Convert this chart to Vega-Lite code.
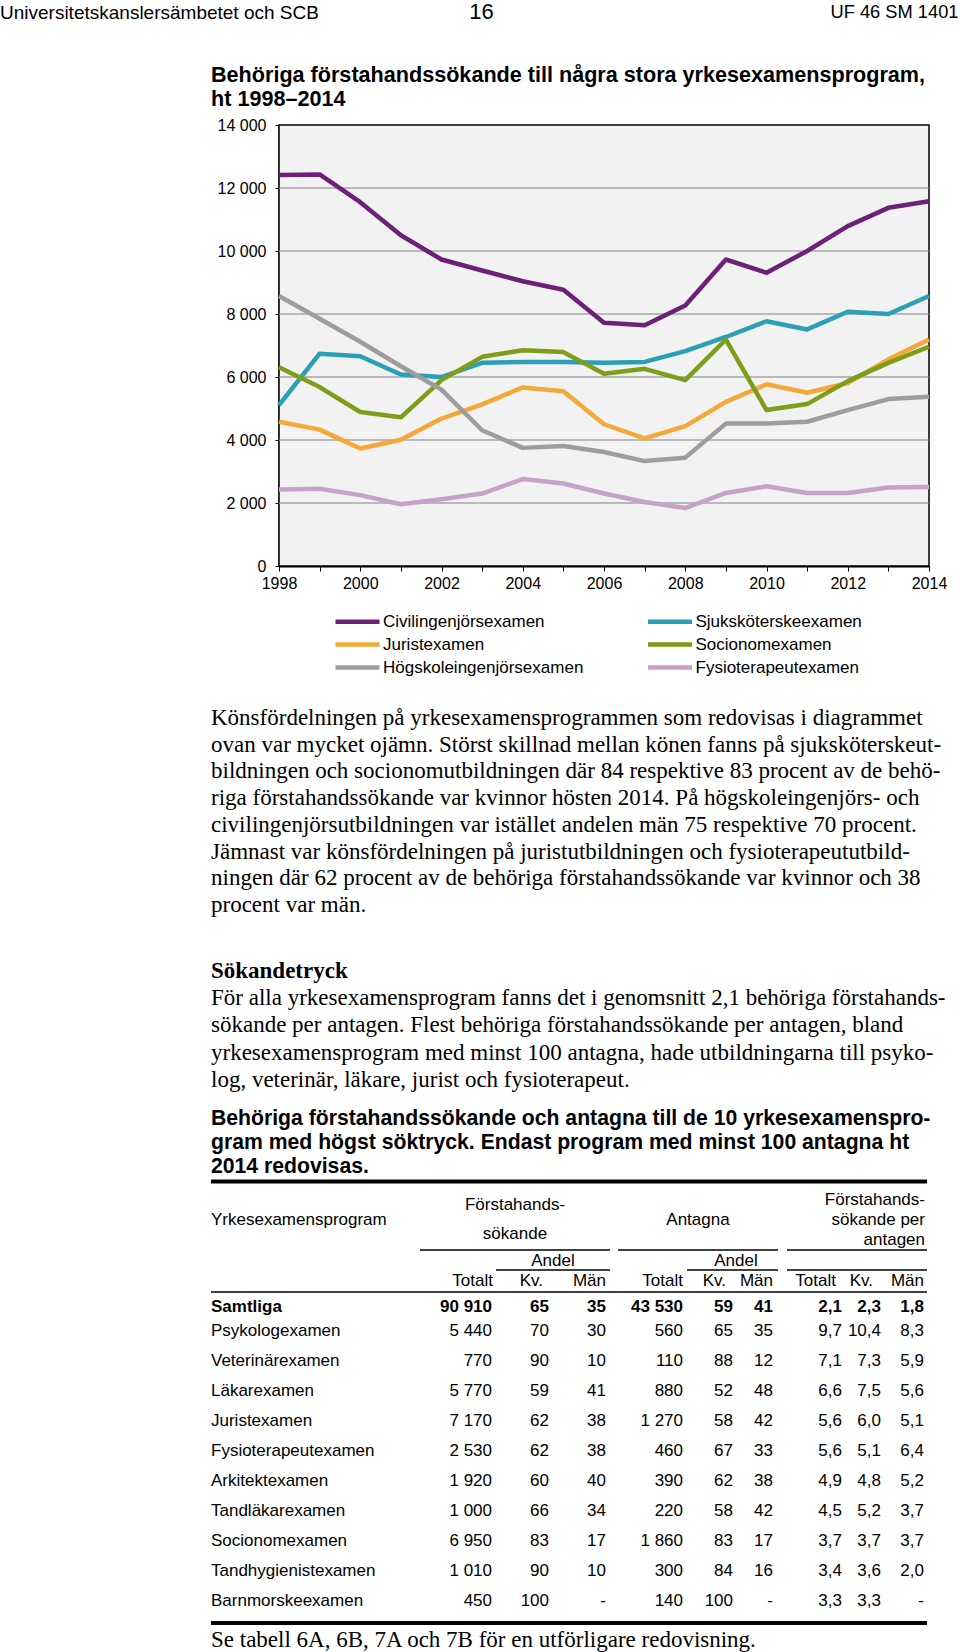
{
  "$schema": "https://vega.github.io/schema/vega-lite/v6.json",
  "width": 960,
  "height": 1652,
  "padding": 0,
  "autosize": {"type": "none"},
  "background": "white",
  "config": {"view": {"stroke": null}, "font": "Liberation Sans", "text": {"color": "#000"}},
  "resolve": {"scale": {"x": "independent", "y": "independent"}, "axis": {"x": "independent", "y": "independent"}},
  "layer": [
    {
      "layer": [
        {
          "data": {"values": [{}]},
          "mark": {"type": "rect", "fill": "#f2f2f2", "stroke": "#000", "strokeWidth": 1.5},
          "encoding": {
            "x": {"datum": 1998, "type": "quantitative", "title": null,
              "scale": {"domain": [1998, 2014], "range": [279, 929], "nice": false, "zero": false},
              "axis": {"orient": "bottom", "offset": -1086, "values": [1998,1999,2000,2001,2002,2003,2004,2005,2006,2007,2008,2009,2010,2011,2012,2013,2014],
                "labelExpr": "datum.value % 2 == 0 ? '' + datum.value : ''", "grid": false, "domainColor": "#000", "domainWidth": 2,
                "tickColor": "#000", "tickSize": 5, "tickWidth": 1, "labelFontSize": 16, "labelFont": "Liberation Sans", "labelColor": "#000",
                "labelPadding": 4, "labelFlush": false, "labelOverlap": false, "title": null}},
            "x2": {"datum": 2014},
            "y": {"datum": 0, "type": "quantitative", "title": null,
              "scale": {"domain": [0, 14000], "range": [566, 125], "nice": false, "zero": false},
              "axis": {"orient": "left", "offset": -279, "values": [0,2000,4000,6000,8000,10000,12000,14000],
                "labelExpr": "replace(format(datum.value, ','), ',', ' ')", "grid": false, "domainColor": "#000", "domainWidth": 2,
                "tickColor": "#000", "tickSize": 4, "labelFontSize": 16, "labelFont": "Liberation Sans", "labelColor": "#000",
                "labelPadding": 9, "title": null}},
            "y2": {"datum": 14000}
          }
        },
        {
          "data": {"values": [{"g": 2000}, {"g": 4000}, {"g": 6000}, {"g": 8000}, {"g": 10000}, {"g": 12000}]},
          "mark": {"type": "rule", "stroke": "#808080", "strokeWidth": 1.2},
          "encoding": {
            "y": {"field": "g", "type": "quantitative", "title": null},
            "x": {"datum": 1998, "type": "quantitative", "title": null},
            "x2": {"datum": 2014}
          }
        },
        {
          "data": {"values": [
            {"ar":1998,"program":"Civilingenjörsexamen","antal":12410},{"ar":1999,"program":"Civilingenjörsexamen","antal":12430},{"ar":2000,"program":"Civilingenjörsexamen","antal":11550},{"ar":2001,"program":"Civilingenjörsexamen","antal":10500},{"ar":2002,"program":"Civilingenjörsexamen","antal":9730},{"ar":2003,"program":"Civilingenjörsexamen","antal":9380},{"ar":2004,"program":"Civilingenjörsexamen","antal":9040},{"ar":2005,"program":"Civilingenjörsexamen","antal":8770},{"ar":2006,"program":"Civilingenjörsexamen","antal":7720},{"ar":2007,"program":"Civilingenjörsexamen","antal":7640},{"ar":2008,"program":"Civilingenjörsexamen","antal":8270},{"ar":2009,"program":"Civilingenjörsexamen","antal":9730},{"ar":2010,"program":"Civilingenjörsexamen","antal":9310},{"ar":2011,"program":"Civilingenjörsexamen","antal":10000},{"ar":2012,"program":"Civilingenjörsexamen","antal":10790},{"ar":2013,"program":"Civilingenjörsexamen","antal":11370},{"ar":2014,"program":"Civilingenjörsexamen","antal":11580},
            {"ar":1998,"program":"Sjuksköterskeexamen","antal":5110},{"ar":1999,"program":"Sjuksköterskeexamen","antal":6740},{"ar":2000,"program":"Sjuksköterskeexamen","antal":6660},{"ar":2001,"program":"Sjuksköterskeexamen","antal":6080},{"ar":2002,"program":"Sjuksköterskeexamen","antal":6000},{"ar":2003,"program":"Sjuksköterskeexamen","antal":6450},{"ar":2004,"program":"Sjuksköterskeexamen","antal":6480},{"ar":2005,"program":"Sjuksköterskeexamen","antal":6480},{"ar":2006,"program":"Sjuksköterskeexamen","antal":6450},{"ar":2007,"program":"Sjuksköterskeexamen","antal":6480},{"ar":2008,"program":"Sjuksköterskeexamen","antal":6820},{"ar":2009,"program":"Sjuksköterskeexamen","antal":7270},{"ar":2010,"program":"Sjuksköterskeexamen","antal":7770},{"ar":2011,"program":"Sjuksköterskeexamen","antal":7510},{"ar":2012,"program":"Sjuksköterskeexamen","antal":8070},{"ar":2013,"program":"Sjuksköterskeexamen","antal":8000},{"ar":2014,"program":"Sjuksköterskeexamen","antal":8570},
            {"ar":1998,"program":"Juristexamen","antal":4580},{"ar":1999,"program":"Juristexamen","antal":4330},{"ar":2000,"program":"Juristexamen","antal":3730},{"ar":2001,"program":"Juristexamen","antal":4010},{"ar":2002,"program":"Juristexamen","antal":4680},{"ar":2003,"program":"Juristexamen","antal":5130},{"ar":2004,"program":"Juristexamen","antal":5670},{"ar":2005,"program":"Juristexamen","antal":5550},{"ar":2006,"program":"Juristexamen","antal":4500},{"ar":2007,"program":"Juristexamen","antal":4050},{"ar":2008,"program":"Juristexamen","antal":4440},{"ar":2009,"program":"Juristexamen","antal":5210},{"ar":2010,"program":"Juristexamen","antal":5770},{"ar":2011,"program":"Juristexamen","antal":5500},{"ar":2012,"program":"Juristexamen","antal":5810},{"ar":2013,"program":"Juristexamen","antal":6560},{"ar":2014,"program":"Juristexamen","antal":7190},
            {"ar":1998,"program":"Socionomexamen","antal":6310},{"ar":1999,"program":"Socionomexamen","antal":5680},{"ar":2000,"program":"Socionomexamen","antal":4890},{"ar":2001,"program":"Socionomexamen","antal":4720},{"ar":2002,"program":"Socionomexamen","antal":5900},{"ar":2003,"program":"Socionomexamen","antal":6640},{"ar":2004,"program":"Socionomexamen","antal":6850},{"ar":2005,"program":"Socionomexamen","antal":6790},{"ar":2006,"program":"Socionomexamen","antal":6100},{"ar":2007,"program":"Socionomexamen","antal":6260},{"ar":2008,"program":"Socionomexamen","antal":5900},{"ar":2009,"program":"Socionomexamen","antal":7190},{"ar":2010,"program":"Socionomexamen","antal":4950},{"ar":2011,"program":"Socionomexamen","antal":5140},{"ar":2012,"program":"Socionomexamen","antal":5870},{"ar":2013,"program":"Socionomexamen","antal":6450},{"ar":2014,"program":"Socionomexamen","antal":6960},
            {"ar":1998,"program":"Högskoleingenjörsexamen","antal":8570},{"ar":1999,"program":"Högskoleingenjörsexamen","antal":7850},{"ar":2000,"program":"Högskoleingenjörsexamen","antal":7120},{"ar":2001,"program":"Högskoleingenjörsexamen","antal":6340},{"ar":2002,"program":"Högskoleingenjörsexamen","antal":5600},{"ar":2003,"program":"Högskoleingenjörsexamen","antal":4310},{"ar":2004,"program":"Högskoleingenjörsexamen","antal":3750},{"ar":2005,"program":"Högskoleingenjörsexamen","antal":3810},{"ar":2006,"program":"Högskoleingenjörsexamen","antal":3620},{"ar":2007,"program":"Högskoleingenjörsexamen","antal":3330},{"ar":2008,"program":"Högskoleingenjörsexamen","antal":3440},{"ar":2009,"program":"Högskoleingenjörsexamen","antal":4520},{"ar":2010,"program":"Högskoleingenjörsexamen","antal":4520},{"ar":2011,"program":"Högskoleingenjörsexamen","antal":4580},{"ar":2012,"program":"Högskoleingenjörsexamen","antal":4950},{"ar":2013,"program":"Högskoleingenjörsexamen","antal":5300},{"ar":2014,"program":"Högskoleingenjörsexamen","antal":5370},
            {"ar":1998,"program":"Fysioterapeutexamen","antal":2430},{"ar":1999,"program":"Fysioterapeutexamen","antal":2450},{"ar":2000,"program":"Fysioterapeutexamen","antal":2250},{"ar":2001,"program":"Fysioterapeutexamen","antal":1960},{"ar":2002,"program":"Fysioterapeutexamen","antal":2120},{"ar":2003,"program":"Fysioterapeutexamen","antal":2300},{"ar":2004,"program":"Fysioterapeutexamen","antal":2760},{"ar":2005,"program":"Fysioterapeutexamen","antal":2620},{"ar":2006,"program":"Fysioterapeutexamen","antal":2300},{"ar":2007,"program":"Fysioterapeutexamen","antal":2030},{"ar":2008,"program":"Fysioterapeutexamen","antal":1840},{"ar":2009,"program":"Fysioterapeutexamen","antal":2320},{"ar":2010,"program":"Fysioterapeutexamen","antal":2530},{"ar":2011,"program":"Fysioterapeutexamen","antal":2320},{"ar":2012,"program":"Fysioterapeutexamen","antal":2320},{"ar":2013,"program":"Fysioterapeutexamen","antal":2490},{"ar":2014,"program":"Fysioterapeutexamen","antal":2510}
          ]},
          "mark": {"type": "line", "strokeWidth": 4.5, "strokeJoin": "round"},
          "encoding": {
            "x": {"field": "ar", "type": "quantitative", "title": null},
            "y": {"field": "antal", "type": "quantitative", "title": null},
            "color": {"field": "program", "type": "nominal",
              "scale": {"domain": ["Civilingenjörsexamen", "Juristexamen", "Högskoleingenjörsexamen", "Sjuksköterskeexamen", "Socionomexamen", "Fysioterapeutexamen"],
                "range": ["#6d2077", "#f5a83a", "#9d9d9d", "#2a9fb6", "#7e9e19", "#c6a2c9"]},
              "legend": {"orient": "none", "legendX": 349, "legendY": 613, "columns": 2, "title": null, "symbolType": "M-5.5,0H5.5", "symbolSize": 64,
                "symbolStrokeWidth": 4.5, "labelFontSize": 17, "labelFont": "Liberation Sans", "labelColor": "#000", "labelOffset": 17,
                "rowPadding": 4, "columnPadding": 54.5, "labelLimit": 0}}
          }
        }
      ]
    },
    {
      "data": {"values": [{"t": "Universitetskanslersämbetet och SCB"}]},
      "mark": {"type": "text", "align": "left", "baseline": "middle", "x": 0, "y": 13, "fontSize": 19},
      "encoding": {"text": {"field": "t"}}
    },
    {
      "data": {"values": [{"t": "16"}]},
      "mark": {"type": "text", "align": "center", "baseline": "middle", "x": 481.5, "y": 12, "fontSize": 22},
      "encoding": {"text": {"field": "t"}}
    },
    {
      "data": {"values": [{"t": "UF 46 SM 1401"}]},
      "mark": {"type": "text", "align": "right", "baseline": "middle", "x": 958.5, "y": 13, "fontSize": 18.3},
      "encoding": {"text": {"field": "t"}}
    },
    {
      "data": {"values": [{"rad": 0, "t": "Behöriga förstahandssökande till några stora yrkesexamensprogram,"}, {"rad": 1, "t": "ht 1998–2014"}]},
      "mark": {"type": "text", "align": "left", "baseline": "middle", "x": 211, "fontSize": 21.6, "fontWeight": "bold"},
      "encoding": {"y": {"field": "rad", "type": "quantitative", "scale": {"domain": [0, 1], "range": [76, 100], "nice": false, "zero": false}, "axis": null}, "text": {"field": "t"}}
    },
    {
      "data": {"values": [
        {"rad": 0, "t": "Könsfördelningen på yrkesexamensprogrammen som redovisas i diagrammet"},
        {"rad": 1, "t": "ovan var mycket ojämn. Störst skillnad mellan könen fanns på sjuksköterskeut-"},
        {"rad": 2, "t": "bildningen och socionomutbildningen där 84 respektive 83 procent av de behö-"},
        {"rad": 3, "t": "riga förstahandssökande var kvinnor hösten 2014. På högskoleingenjörs- och"},
        {"rad": 4, "t": "civilingenjörsutbildningen var istället andelen män 75 respektive 70 procent."},
        {"rad": 5, "t": "Jämnast var könsfördelningen på juristutbildningen och fysioterapeututbild-"},
        {"rad": 6, "t": "ningen där 62 procent av de behöriga förstahandssökande var kvinnor och 38"},
        {"rad": 7, "t": "procent var män."}
      ]},
      "mark": {"type": "text", "align": "left", "baseline": "middle", "x": 211, "font": "Liberation Serif", "fontSize": 23},
      "encoding": {"y": {"field": "rad", "type": "quantitative", "scale": {"domain": [0, 7], "range": [718, 905], "nice": false, "zero": false}, "axis": null}, "text": {"field": "t"}}
    },
    {
      "data": {"values": [{"t": "Sökandetryck"}]},
      "mark": {"type": "text", "align": "left", "baseline": "middle", "x": 211, "y": 970.5, "font": "Liberation Serif", "fontSize": 23, "fontWeight": "bold"},
      "encoding": {"text": {"field": "t"}}
    },
    {
      "data": {"values": [
        {"rad": 0, "t": "För alla yrkesexamensprogram fanns det i genomsnitt 2,1 behöriga förstahands-"},
        {"rad": 1, "t": "sökande per antagen. Flest behöriga förstahandssökande per antagen, bland"},
        {"rad": 2, "t": "yrkesexamensprogram med minst 100 antagna, hade utbildningarna till psyko-"},
        {"rad": 3, "t": "log, veterinär, läkare, jurist och fysioterapeut."}
      ]},
      "mark": {"type": "text", "align": "left", "baseline": "middle", "x": 211, "font": "Liberation Serif", "fontSize": 23},
      "encoding": {"y": {"field": "rad", "type": "quantitative", "scale": {"domain": [0, 3], "range": [998, 1080], "nice": false, "zero": false}, "axis": null}, "text": {"field": "t"}}
    },
    {
      "data": {"values": [
        {"rad": 0, "t": "Behöriga förstahandssökande och antagna till de 10 yrkesexamenspro-"},
        {"rad": 1, "t": "gram med högst söktryck. Endast program med minst 100 antagna ht"},
        {"rad": 2, "t": "2014 redovisas."}
      ]},
      "mark": {"type": "text", "align": "left", "baseline": "middle", "x": 211, "fontSize": 21.2, "fontWeight": "bold"},
      "encoding": {"y": {"field": "rad", "type": "quantitative", "scale": {"domain": [0, 2], "range": [1119, 1166.5], "nice": false, "zero": false}, "axis": null}, "text": {"field": "t"}}
    },
    {
      "data": {"values": [{"t": "Yrkesexamensprogram"}]},
      "mark": {"type": "text", "align": "left", "baseline": "middle", "x": 211, "y": 1220, "fontSize": 17},
      "encoding": {"text": {"field": "t"}}
    },
    {
      "data": {"values": [{"rad": 0, "t": "Förstahands-"}, {"rad": 1, "t": "sökande"}]},
      "mark": {"type": "text", "align": "center", "baseline": "middle", "x": 515, "fontSize": 17},
      "encoding": {"y": {"field": "rad", "type": "quantitative", "scale": {"domain": [0, 1], "range": [1204.5, 1234], "nice": false, "zero": false}, "axis": null}, "text": {"field": "t"}}
    },
    {
      "data": {"values": [{"t": "Antagna"}]},
      "mark": {"type": "text", "align": "center", "baseline": "middle", "x": 698, "y": 1220, "fontSize": 17},
      "encoding": {"text": {"field": "t"}}
    },
    {
      "data": {"values": [{"rad": 0, "t": "Förstahands-"}, {"rad": 1, "t": "sökande per"}, {"rad": 2, "t": "antagen"}]},
      "mark": {"type": "text", "align": "right", "baseline": "middle", "x": 925, "fontSize": 17},
      "encoding": {"y": {"field": "rad", "type": "quantitative", "scale": {"domain": [0, 2], "range": [1200, 1240], "nice": false, "zero": false}, "axis": null}, "text": {"field": "t"}}
    },
    {
      "data": {"values": [{"grupp": "Förstahandssökande", "t": "Andel"}, {"grupp": "Antagna", "t": "Andel"}]},
      "mark": {"type": "text", "align": "center", "baseline": "middle", "y": 1261, "fontSize": 17},
      "encoding": {"x": {"field": "grupp", "type": "nominal", "sort": null, "scale": {"type": "point", "range": [553, 736], "padding": 0}, "axis": null}, "text": {"field": "t"}}
    },
    {
      "data": {"values": [{"kol": 1, "t": "Totalt"}, {"kol": 2, "t": "Kv."}, {"kol": 3, "t": "Män"}, {"kol": 4, "t": "Totalt"}, {"kol": 5, "t": "Kv."}, {"kol": 6, "t": "Män"}, {"kol": 7, "t": "Totalt"}, {"kol": 8, "t": "Kv."}, {"kol": 9, "t": "Män"}]},
      "mark": {"type": "text", "align": "right", "baseline": "middle", "y": 1281, "fontSize": 17},
      "encoding": {"x": {"field": "kol", "type": "quantitative", "scale": {"domain": [1,2,3,4,5,6,7,8,9], "range": [493,543,606,683,726,773,836,873,924], "nice": false, "zero": false}, "axis": null}, "text": {"field": "t"}}
    },
    {
      "data": {"values": [
        {"r":0,"k":0,"v":"Samtliga"},{"r":0,"k":1,"v":"90 910"},{"r":0,"k":2,"v":"65"},{"r":0,"k":3,"v":"35"},{"r":0,"k":4,"v":"43 530"},{"r":0,"k":5,"v":"59"},{"r":0,"k":6,"v":"41"},{"r":0,"k":7,"v":"2,1"},{"r":0,"k":8,"v":"2,3"},{"r":0,"k":9,"v":"1,8"},
        {"r":1,"k":0,"v":"Psykologexamen"},{"r":1,"k":1,"v":"5 440"},{"r":1,"k":2,"v":"70"},{"r":1,"k":3,"v":"30"},{"r":1,"k":4,"v":"560"},{"r":1,"k":5,"v":"65"},{"r":1,"k":6,"v":"35"},{"r":1,"k":7,"v":"9,7"},{"r":1,"k":8,"v":"10,4"},{"r":1,"k":9,"v":"8,3"},
        {"r":2,"k":0,"v":"Veterinärexamen"},{"r":2,"k":1,"v":"770"},{"r":2,"k":2,"v":"90"},{"r":2,"k":3,"v":"10"},{"r":2,"k":4,"v":"110"},{"r":2,"k":5,"v":"88"},{"r":2,"k":6,"v":"12"},{"r":2,"k":7,"v":"7,1"},{"r":2,"k":8,"v":"7,3"},{"r":2,"k":9,"v":"5,9"},
        {"r":3,"k":0,"v":"Läkarexamen"},{"r":3,"k":1,"v":"5 770"},{"r":3,"k":2,"v":"59"},{"r":3,"k":3,"v":"41"},{"r":3,"k":4,"v":"880"},{"r":3,"k":5,"v":"52"},{"r":3,"k":6,"v":"48"},{"r":3,"k":7,"v":"6,6"},{"r":3,"k":8,"v":"7,5"},{"r":3,"k":9,"v":"5,6"},
        {"r":4,"k":0,"v":"Juristexamen"},{"r":4,"k":1,"v":"7 170"},{"r":4,"k":2,"v":"62"},{"r":4,"k":3,"v":"38"},{"r":4,"k":4,"v":"1 270"},{"r":4,"k":5,"v":"58"},{"r":4,"k":6,"v":"42"},{"r":4,"k":7,"v":"5,6"},{"r":4,"k":8,"v":"6,0"},{"r":4,"k":9,"v":"5,1"},
        {"r":5,"k":0,"v":"Fysioterapeutexamen"},{"r":5,"k":1,"v":"2 530"},{"r":5,"k":2,"v":"62"},{"r":5,"k":3,"v":"38"},{"r":5,"k":4,"v":"460"},{"r":5,"k":5,"v":"67"},{"r":5,"k":6,"v":"33"},{"r":5,"k":7,"v":"5,6"},{"r":5,"k":8,"v":"5,1"},{"r":5,"k":9,"v":"6,4"},
        {"r":6,"k":0,"v":"Arkitektexamen"},{"r":6,"k":1,"v":"1 920"},{"r":6,"k":2,"v":"60"},{"r":6,"k":3,"v":"40"},{"r":6,"k":4,"v":"390"},{"r":6,"k":5,"v":"62"},{"r":6,"k":6,"v":"38"},{"r":6,"k":7,"v":"4,9"},{"r":6,"k":8,"v":"4,8"},{"r":6,"k":9,"v":"5,2"},
        {"r":7,"k":0,"v":"Tandläkarexamen"},{"r":7,"k":1,"v":"1 000"},{"r":7,"k":2,"v":"66"},{"r":7,"k":3,"v":"34"},{"r":7,"k":4,"v":"220"},{"r":7,"k":5,"v":"58"},{"r":7,"k":6,"v":"42"},{"r":7,"k":7,"v":"4,5"},{"r":7,"k":8,"v":"5,2"},{"r":7,"k":9,"v":"3,7"},
        {"r":8,"k":0,"v":"Socionomexamen"},{"r":8,"k":1,"v":"6 950"},{"r":8,"k":2,"v":"83"},{"r":8,"k":3,"v":"17"},{"r":8,"k":4,"v":"1 860"},{"r":8,"k":5,"v":"83"},{"r":8,"k":6,"v":"17"},{"r":8,"k":7,"v":"3,7"},{"r":8,"k":8,"v":"3,7"},{"r":8,"k":9,"v":"3,7"},
        {"r":9,"k":0,"v":"Tandhygienistexamen"},{"r":9,"k":1,"v":"1 010"},{"r":9,"k":2,"v":"90"},{"r":9,"k":3,"v":"10"},{"r":9,"k":4,"v":"300"},{"r":9,"k":5,"v":"84"},{"r":9,"k":6,"v":"16"},{"r":9,"k":7,"v":"3,4"},{"r":9,"k":8,"v":"3,6"},{"r":9,"k":9,"v":"2,0"},
        {"r":10,"k":0,"v":"Barnmorskeexamen"},{"r":10,"k":1,"v":"450"},{"r":10,"k":2,"v":"100"},{"r":10,"k":3,"v":"-"},{"r":10,"k":4,"v":"140"},{"r":10,"k":5,"v":"100"},{"r":10,"k":6,"v":"-"},{"r":10,"k":7,"v":"3,3"},{"r":10,"k":8,"v":"3,3"},{"r":10,"k":9,"v":"-"}
      ]},
      "encoding": {
        "x": {"field": "k", "type": "quantitative", "scale": {"domain": [0,1,2,3,4,5,6,7,8,9], "range": [211,492,549,606,683,733,773,842,881,924], "nice": false, "zero": false}, "axis": null},
        "y": {"field": "r", "type": "quantitative", "scale": {"domain": [0, 1, 10], "range": [1307, 1331, 1601], "nice": false, "zero": false}, "axis": null},
        "text": {"field": "v"}
      },
      "layer": [
        {"transform": [{"filter": "datum.k > 0 && datum.r > 0"}], "mark": {"type": "text", "align": "right", "baseline": "middle", "fontSize": 17}},
        {"transform": [{"filter": "datum.k > 0 && datum.r == 0"}], "mark": {"type": "text", "align": "right", "baseline": "middle", "fontSize": 17, "fontWeight": "bold"}},
        {"transform": [{"filter": "datum.k == 0 && datum.r > 0"}], "mark": {"type": "text", "align": "left", "baseline": "middle", "fontSize": 17}},
        {"transform": [{"filter": "datum.k == 0 && datum.r == 0"}], "mark": {"type": "text", "align": "left", "baseline": "middle", "fontSize": 17, "fontWeight": "bold"}}
      ]
    },
    {"data": {"values": [{}]}, "mark": {"type": "rule", "stroke": "#000", "strokeWidth": 4}, "encoding": {"y": {"value": 1181.5}, "x": {"value": 211}, "x2": {"value": 927}}},
    {"data": {"values": [{}]}, "mark": {"type": "rule", "stroke": "#000", "strokeWidth": 1.5}, "encoding": {"y": {"value": 1250}, "x": {"value": 420}, "x2": {"value": 610}}},
    {"data": {"values": [{}]}, "mark": {"type": "rule", "stroke": "#000", "strokeWidth": 1.5}, "encoding": {"y": {"value": 1250}, "x": {"value": 618}, "x2": {"value": 778}}},
    {"data": {"values": [{}]}, "mark": {"type": "rule", "stroke": "#000", "strokeWidth": 1.5}, "encoding": {"y": {"value": 1250}, "x": {"value": 787}, "x2": {"value": 927}}},
    {"data": {"values": [{}]}, "mark": {"type": "rule", "stroke": "#000", "strokeWidth": 1.5}, "encoding": {"y": {"value": 1270}, "x": {"value": 496}, "x2": {"value": 610}}},
    {"data": {"values": [{}]}, "mark": {"type": "rule", "stroke": "#000", "strokeWidth": 1.5}, "encoding": {"y": {"value": 1270}, "x": {"value": 687}, "x2": {"value": 778}}},
    {"data": {"values": [{}]}, "mark": {"type": "rule", "stroke": "#000", "strokeWidth": 1.5}, "encoding": {"y": {"value": 1270}, "x": {"value": 787}, "x2": {"value": 927}}},
    {"data": {"values": [{}]}, "mark": {"type": "rule", "stroke": "#000", "strokeWidth": 1.5}, "encoding": {"y": {"value": 1292}, "x": {"value": 211}, "x2": {"value": 927}}},
    {"data": {"values": [{}]}, "mark": {"type": "rule", "stroke": "#000", "strokeWidth": 4}, "encoding": {"y": {"value": 1623}, "x": {"value": 211}, "x2": {"value": 927}}},
    {
      "data": {"values": [{"t": "Se tabell 6A, 6B, 7A och 7B för en utförligare redovisning."}]},
      "mark": {"type": "text", "align": "left", "baseline": "middle", "x": 211, "y": 1640, "font": "Liberation Serif", "fontSize": 23},
      "encoding": {"text": {"field": "t"}}
    }
  ]
}
